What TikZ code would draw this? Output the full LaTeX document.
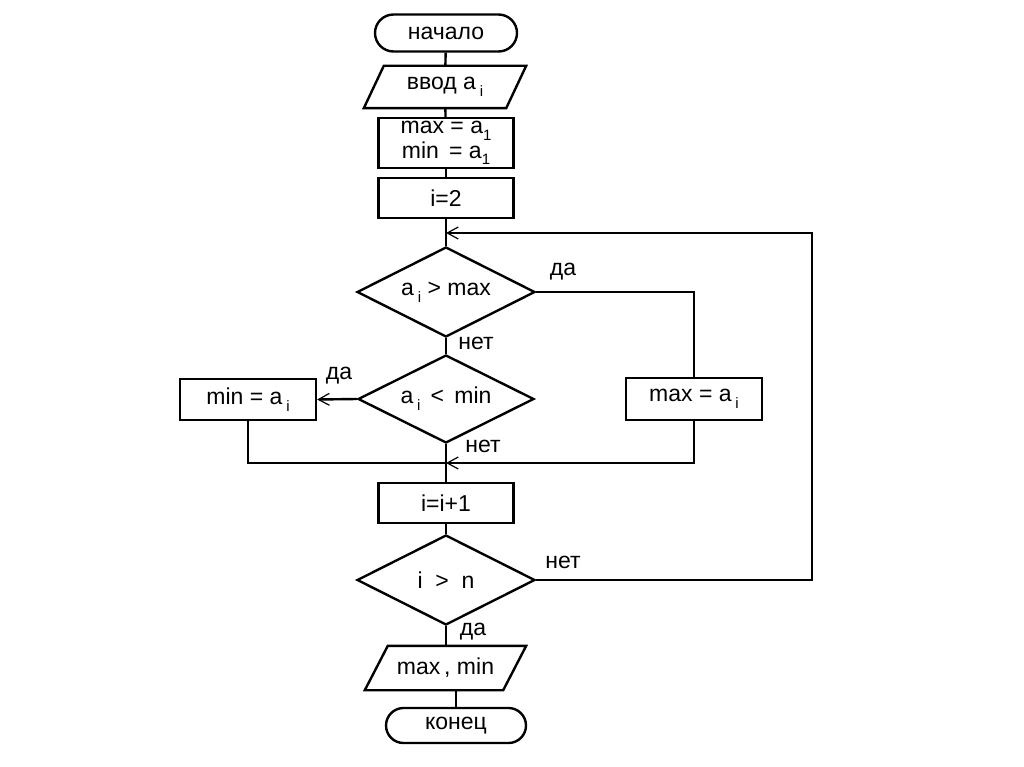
\documentclass[tikz,border=0pt]{standalone}
\usepackage{fontspec}
\setmainfont{Liberation Sans}
\usetikzlibrary{shapes.geometric,shapes.misc,arrows.meta,calc}
\newcommand\sbi[1]{\raisebox{-0.55ex}{\fontsize{15}{15}\selectfont #1}}
\begin{document}
\begin{tikzpicture}[x=1pt,y=-1pt, line width=2.4pt,
 every node/.style={font=\fontsize{23}{21}\selectfont},
 box/.style={draw, rectangle, minimum width=135pt, minimum height=40pt, inner sep=0pt, align=center},
 term/.style={draw, rounded rectangle, minimum width=142pt, minimum height=37pt, inner sep=0pt},
 dec/.style={draw, diamond, aspect=2, minimum width=178pt, minimum height=90pt, inner sep=0pt},
 io/.style={minimum height=40pt, inner sep=0pt},
 lbl/.style={inner sep=0pt},
 arr/.style={-{Straight Barb[length=11pt,width=12pt,line width=1.2pt]}}]
\useasboundingbox (0,0) rectangle (1024,767);
\fill[white] (0,0) rectangle (1024,767);

\node[term] (start) at (446,33) {начало};
\node[io, minimum width=120pt] (inp) at (445,87) {ввод a\,\sbi{i}};
\draw (inp.north west) -- ($(inp.north east)+(20,0)$) -- (inp.south east) -- ($(inp.south west)+(-20,0)$) -- cycle;
\node[box, minimum height=50pt] (init) at (446,143) {max = a\sbi{1}\\ min\, = a\sbi{1}};
\node[box] (i2) at (446,198) {i=2};
\coordinate (m1) at (446,233);
\node[dec] (d1) at (446,292) {a\,\sbi{i} > max};
\node[dec, minimum width=176pt, minimum height=88pt] (d2) at (446,399) {a\,\sbi{i}\, <\, min};
\node[box, minimum width=136pt, minimum height=41pt] (minb) at (248,399.5) {min = a\,\sbi{i}};
\node[box, minimum width=136pt, minimum height=42pt] (maxb) at (694,399) {max = a\,\sbi{i}};
\coordinate (m2) at (446,463);
\node[box] (inc) at (446,503) {i=i+1};
\node[dec] (d3) at (446,580) {i\ \ >\ \ n};
\node[io, minimum width=113pt, minimum height=42pt] (out) at (445.5,668) {max\,, min};
\draw (out.north west) -- ($(out.north east)+(23,0)$) -- (out.south east) -- ($(out.south west)+(-23,0)$) -- cycle;
\node[term, minimum width=140pt, minimum height=35pt] (fin) at (456,725.5) {конец};
\coordinate (c1) at (812,233);

% labels
\node[lbl] (l1) at (563,272) {да};
\node[lbl] (l2) at (476,343) {нет};
\node[lbl] (l3) at (339,376) {да};
\node[lbl] (l4) at (483,446) {нет};
\node[lbl] (l5) at (563,562) {нет};
\node[lbl] (l6) at (473,632) {да};

% connectors
\draw (start) -- (inp);
\draw (inp) -- (init);
\draw (init) -- (i2);
\draw (i2) -- (d1);
\draw (d1.east) -| (maxb.north);
\draw (d1.south) -- (d2.north);
\draw[arr] (d2.west) -- (minb.east);
\draw (minb.south) |- (m2);
\draw[arr] (maxb.south) |- (m2);
\draw (d2.south) -- (inc.north);
\draw (inc) -- (d3);
\draw[arr] (d3.east) -| (c1) -- (m1);
\draw (d3.south) -- (d3.south |- out.north);
\draw (out.south -| fin.north) -- (fin.north);
\end{tikzpicture}
\end{document}
